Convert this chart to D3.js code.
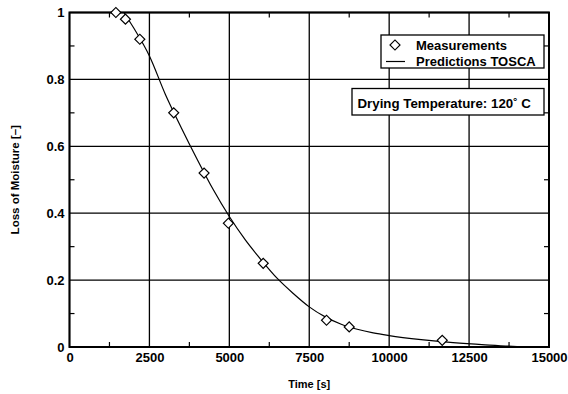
<!DOCTYPE html>
<html>
<head>
<meta charset="utf-8">
<script src="https://cdn.jsdelivr.net/npm/d3@7"></script>
<style>
    body { margin: 0; background: #fff; }
    text { font-family: "Liberation Sans", Arial, sans-serif; font-weight: bold; fill: #000; }
</style>
</head>
<body>
<div id="chart"></div>
<script>
// measured points
const measTime = [1450, 1750, 2200, 3260, 4210, 4970, 6060, 8040, 8750, 11660];
const measLoss = [1.0, 0.98, 0.92, 0.70, 0.52, 0.37, 0.25, 0.08, 0.06, 0.02];

// TOSCA prediction curve
const predTime = [1700, 2000, 2500, 3000, 3500, 4000, 4500, 5000, 5500, 6000, 6500, 7000, 7500,
    8000, 8500, 9000, 9500, 10000, 11000, 12000, 13000, 14000, 15000];
const predLoss = [1.0, 0.955, 0.87, 0.755, 0.655, 0.56, 0.47, 0.39, 0.32, 0.26, 0.205, 0.16, 0.12,
    0.09, 0.068, 0.053, 0.042, 0.034, 0.022, 0.013, 0.0065, 0.0015, 0];

const xMajor = [0, 2500, 5000, 7500, 10000, 12500, 15000];
const yMajor = [0, 0.2, 0.4, 0.6, 0.8, 1];
const xMinor = [1250, 3750, 6250, 8750, 11250, 13750];
const yMinor = [0.1, 0.3, 0.5, 0.7, 0.9];

const legendLabels = ["Measurements", "Predictions TOSCA"];
const noteText = "Drying Temperature: 120˚ C";

const width = 568, height = 394;
const margin = {top: 12.5, right: 19, bottom: 47, left: 69.5};
const w = width - margin.left - margin.right;
const h = height - margin.top - margin.bottom;

const svg = d3.select("#chart").append("svg")
    .attr("width", width)
    .attr("height", height);

const g = svg.append("g")
    .attr("transform", "translate(" + margin.left + "," + margin.top + ")");

const x = d3.scaleLinear().domain([0, 15000]).range([0, w]);
const y = d3.scaleLinear().domain([0, 1]).range([h, 0]);

// grid
g.append("g").selectAll("line").data(xMajor).enter().append("line")
    .attr("x1", d => x(d)).attr("x2", d => x(d))
    .attr("y1", 0).attr("y2", h)
    .attr("stroke", "#000").attr("stroke-width", 1.3);
g.append("g").selectAll("line").data(yMajor).enter().append("line")
    .attr("y1", d => y(d)).attr("y2", d => y(d))
    .attr("x1", 0).attr("x2", w)
    .attr("stroke", "#000").attr("stroke-width", 1.3);

// minor ticks, pointing inward on all four sides
const tl = 5;
const minor = g.append("g").attr("stroke", "#000").attr("stroke-width", 1.2);
xMinor.forEach(d => {
    minor.append("line").attr("x1", x(d)).attr("x2", x(d)).attr("y1", h).attr("y2", h - tl);
    minor.append("line").attr("x1", x(d)).attr("x2", x(d)).attr("y1", 0).attr("y2", tl);
});
yMinor.forEach(d => {
    minor.append("line").attr("y1", y(d)).attr("y2", y(d)).attr("x1", 0).attr("x2", tl);
    minor.append("line").attr("y1", y(d)).attr("y2", y(d)).attr("x1", w).attr("x2", w - tl);
});

// axes (labels only, frame drawn separately)
const xAxis = g.append("g")
    .attr("transform", "translate(0," + h + ")")
    .call(d3.axisBottom(x).tickValues(xMajor).tickSize(0).tickPadding(6).tickFormat(d3.format("d")));
const yAxis = g.append("g")
    .call(d3.axisLeft(y).tickValues(yMajor).tickSize(0).tickPadding(5).tickFormat(d => d3.format("")(d)));
[xAxis, yAxis].forEach(a => {
    a.select(".domain").remove();
    a.selectAll("text").attr("font-size", 13)
        .attr("font-family", "'Liberation Sans', Arial, sans-serif").attr("font-weight", "bold");
});

// frame
g.append("rect")
    .attr("width", w).attr("height", h)
    .attr("fill", "none").attr("stroke", "#000").attr("stroke-width", 2);

// prediction curve
const line = d3.line()
    .x((d, i) => x(predTime[i]))
    .y(d => y(d))
    .curve(d3.curveMonotoneX);
g.append("path")
    .datum(predLoss)
    .attr("d", line)
    .attr("fill", "none").attr("stroke", "#000").attr("stroke-width", 1.2);

// measurement diamonds
const diamond = d3.symbol().type(d3.symbolSquare).size(50);
g.append("g").selectAll("path").data(measLoss).enter().append("path")
    .attr("d", diamond)
    .attr("transform", (d, i) => "translate(" + x(measTime[i]) + "," + y(d) + ") rotate(45)")
    .attr("fill", "#fff").attr("stroke", "#000").attr("stroke-width", 1.2);

// legend
const lg = svg.append("g").attr("transform", "translate(381,35)");
lg.append("rect").attr("width", 163).attr("height", 33)
    .attr("fill", "#fff").attr("stroke", "#000").attr("stroke-width", 1.3);
lg.append("path").attr("d", diamond)
    .attr("transform", "translate(14,10) rotate(45)")
    .attr("fill", "#fff").attr("stroke", "#000").attr("stroke-width", 1.2);
lg.append("line").attr("x1", 5).attr("x2", 24).attr("y1", 26.5).attr("y2", 26.5)
    .attr("stroke", "#000").attr("stroke-width", 1.2);
lg.selectAll("text.lab").data(legendLabels).enter().append("text")
    .attr("class", "lab")
    .attr("x", 35)
    .attr("y", (d, i) => 14.5 + i * 16.5)
    .attr("font-size", 13)
    .text(d => d);

// temperature note
const note = svg.append("g").attr("transform", "translate(352,88.5)");
note.append("rect").attr("width", 192).attr("height", 26.5)
    .attr("fill", "#fff").attr("stroke", "#000").attr("stroke-width", 1.3);
note.append("text").attr("x", 5.5).attr("y", 19.5).attr("font-size", 13.3).text(noteText);

// axis titles
svg.append("text")
    .attr("x", margin.left + w / 2).attr("y", 388)
    .attr("text-anchor", "middle").attr("font-size", 11)
    .text("Time [s]");
svg.append("text")
    .attr("transform", "translate(19," + (margin.top + h / 2) + ") rotate(-90)")
    .attr("text-anchor", "middle").attr("font-size", 11.5)
    .text("Loss of Moisture [–]");
</script>
</body>
</html>
